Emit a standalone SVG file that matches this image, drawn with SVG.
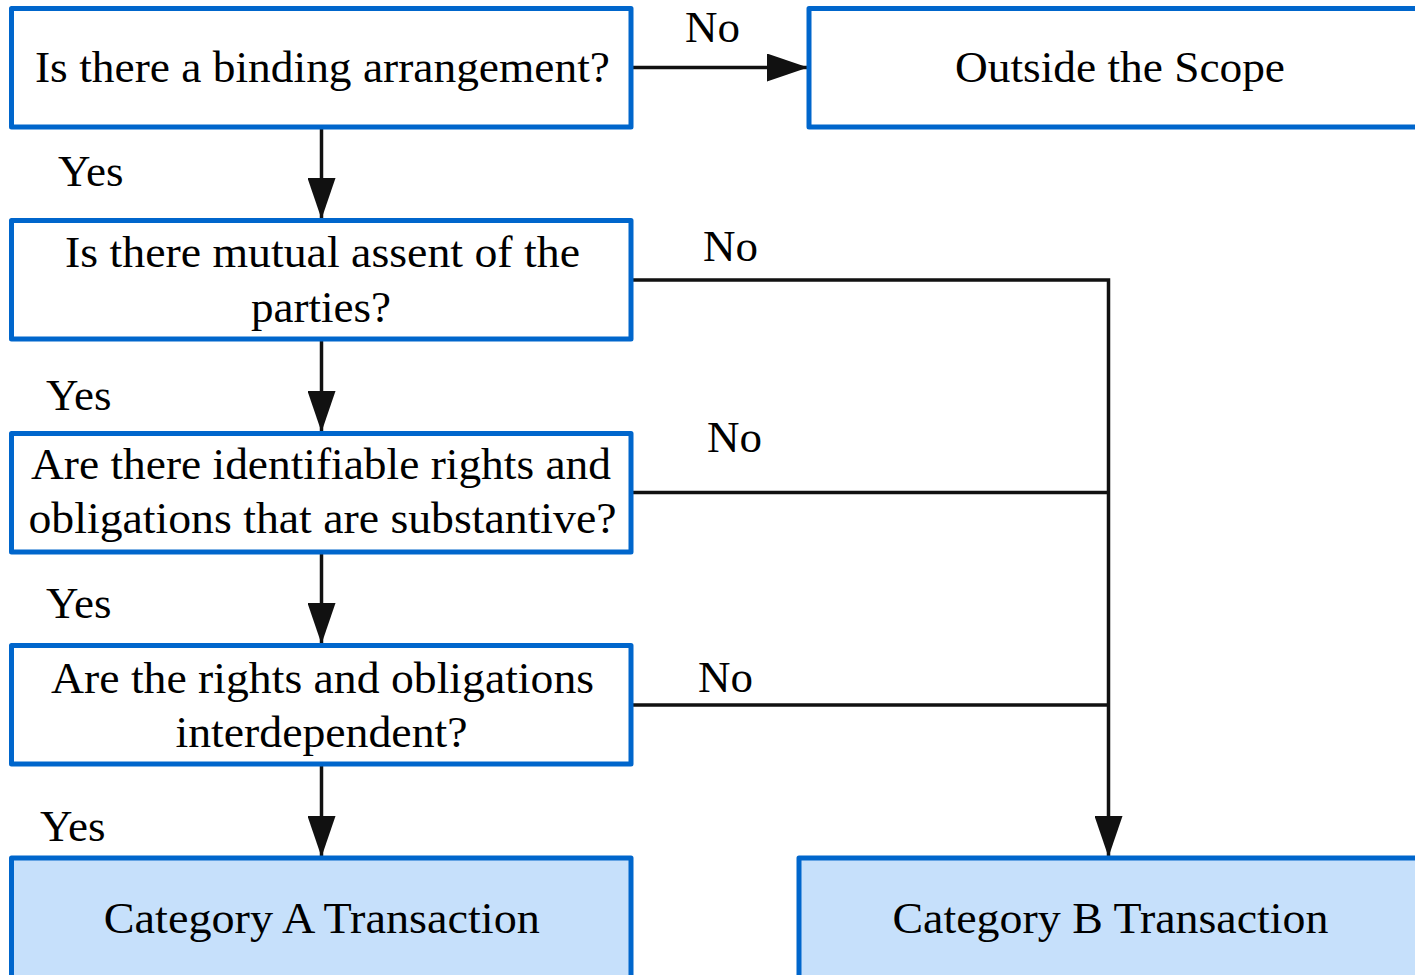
<svg xmlns="http://www.w3.org/2000/svg" width="1415" height="975" viewBox="0 0 1415 975">
<style>
.box{fill:#ffffff;stroke:#0066cc;stroke-width:5;stroke-linejoin:round}
.term{fill:#c6e0fb;stroke:#0066cc;stroke-width:5;stroke-linejoin:round}
.t{font-family:"Liberation Serif","Times New Roman",serif;font-size:45px;fill:#000}
.c{text-anchor:middle}
.ln{fill:none;stroke:#111;stroke-width:3.5}
</style>
<defs>
<marker id="ah" markerUnits="userSpaceOnUse" markerWidth="41" markerHeight="28" refX="41" refY="14" orient="auto" viewBox="0 0 41 28">
<path d="M0,0 L41,14 L0,28 z" fill="#111"/>
</marker>
</defs>
<rect width="1415" height="975" fill="#ffffff"/>
<g id="connectors">
<line class="ln" x1="321.5" y1="127" x2="321.5" y2="219" marker-end="url(#ah)"/>
<line class="ln" x1="321.5" y1="339" x2="321.5" y2="432" marker-end="url(#ah)"/>
<line class="ln" x1="321.5" y1="552" x2="321.5" y2="644" marker-end="url(#ah)"/>
<line class="ln" x1="321.5" y1="764" x2="321.5" y2="857" marker-end="url(#ah)"/>
<line class="ln" x1="631" y1="67.5" x2="808" y2="67.5" marker-end="url(#ah)"/>
<polyline class="ln" points="631,280 1108.5,280 1108.5,857" marker-end="url(#ah)"/>
<line class="ln" x1="631" y1="492.5" x2="1108.5" y2="492.5"/>
<line class="ln" x1="631" y1="705" x2="1108.5" y2="705"/>
<text class="t" x="685" y="42">No</text>
<text class="t" x="703" y="261">No</text>
<text class="t" x="707" y="452">No</text>
<text class="t" x="698" y="692">No</text>
<text class="t" x="58" y="186">Yes</text>
<text class="t" x="46" y="410">Yes</text>
<text class="t" x="46" y="618">Yes</text>
<text class="t" x="40" y="841">Yes</text>
</g>
<g id="q1">
<rect class="box" x="11.5" y="8.5" width="619.5" height="118.5"/>
<text class="t c" x="322.5" y="82" textLength="575" lengthAdjust="spacingAndGlyphs">Is there a binding arrangement?</text>
</g>
<g id="outside">
<rect class="box" x="809" y="8.5" width="621" height="118.5"/>
<text class="t c" x="1120" y="82" textLength="330" lengthAdjust="spacingAndGlyphs">Outside the Scope</text>
</g>
<g id="q2">
<rect class="box" x="11.5" y="220.5" width="619.5" height="118.5"/>
<text class="t c" x="322.5" y="267" textLength="515" lengthAdjust="spacingAndGlyphs">Is there mutual assent of the</text>
<text class="t c" x="321" y="322" textLength="140" lengthAdjust="spacingAndGlyphs">parties?</text>
</g>
<g id="q3">
<rect class="box" x="11.5" y="433.5" width="619.5" height="118.5"/>
<text class="t c" x="321" y="479" textLength="580" lengthAdjust="spacingAndGlyphs">Are there identifiable rights and</text>
<text class="t c" x="322.5" y="533" textLength="588" lengthAdjust="spacingAndGlyphs">obligations that are substantive?</text>
</g>
<g id="q4">
<rect class="box" x="11.5" y="645.5" width="619.5" height="118.5"/>
<text class="t c" x="322.5" y="693" textLength="543" lengthAdjust="spacingAndGlyphs">Are the rights and obligations</text>
<text class="t c" x="321.5" y="747" textLength="292" lengthAdjust="spacingAndGlyphs">interdependent?</text>
</g>
<g id="catA">
<rect class="term" x="11.5" y="858" width="619.5" height="122"/>
<text class="t c" x="321.8" y="933" textLength="436" lengthAdjust="spacingAndGlyphs">Category A Transaction</text>
</g>
<g id="catB">
<rect class="term" x="799" y="858" width="622" height="122"/>
<text class="t c" x="1110.5" y="933" textLength="436" lengthAdjust="spacingAndGlyphs">Category B Transaction</text>
</g>
</svg>
